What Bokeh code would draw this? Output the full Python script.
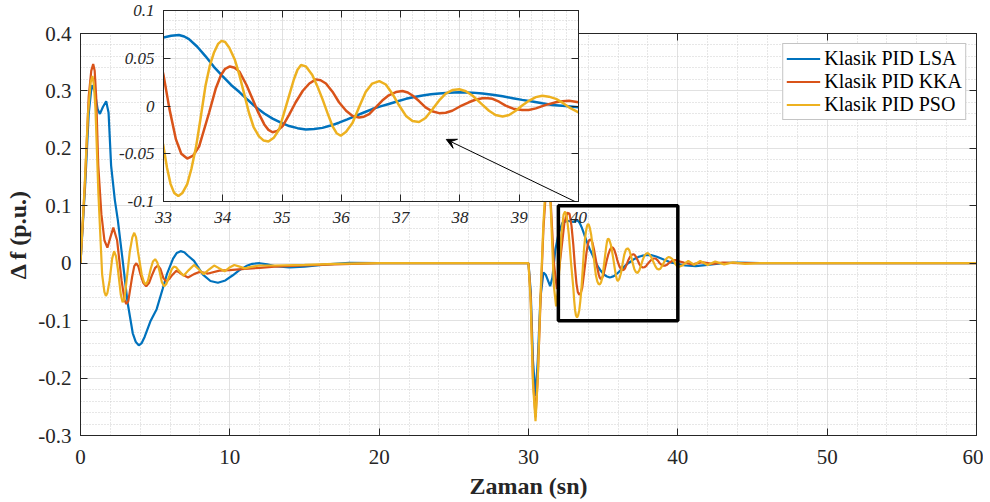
import numpy as np
from bokeh.plotting import figure
from bokeh.models import (Range1d, FixedTicker, LinearAxis, Legend, LegendItem,
                          Arrow, VeeHead, GridBox, Column)
from bokeh.embed import file_html
from bokeh.resources import INLINE

# ---------------- data ----------------
series_names = ["Klasik PID LSA", "Klasik PID KKA", "Klasik PID PSO"]
series_colors = ["#0072BD", "#D95319", "#EDB120"]

# (time [s], delta f [p.u.]) pairs, one list per controller
lsa_points = [
    (0, 0), (0.3, 0.13), (0.55, 0.26), (0.75, 0.31), (0.95, 0.30), (1.15, 0.268), (1.3, 0.26),
    (1.5, 0.272), (1.72, 0.282), (1.88, 0.262), (2.05, 0.17), (2.3, 0.11), (2.5, 0.075),
    (2.8, 0.01), (3.15, -0.068), (3.5, -0.122), (3.7, -0.137), (3.9, -0.143), (4.1, -0.139),
    (4.3, -0.128), (4.7, -0.1), (5.1, -0.08), (5.5, -0.045), (5.8, -0.018), (6.2, 0.008),
    (6.45, 0.018), (6.7, 0.021), (6.95, 0.019), (7.2, 0.013), (7.6, 0.004), (8.2, -0.02),
    (8.7, -0.031), (9.2, -0.034), (9.7, -0.03), (10.2, -0.021), (10.6, -0.013), (11.1, -0.005),
    (11.5, -0.001), (12.0, 0.0), (12.5, -0.002), (13.0, -0.005), (14.0, -0.0075), (15.0, -0.006),
    (16.5, -0.002), (18.0, 0.0005), (20, 0), (30, 0),
    (30.15, -0.05), (30.3, -0.17), (30.47, -0.231), (30.62, -0.17), (30.8, -0.06), (31.0, -0.016),
    (31.15, -0.02), (31.3, -0.03), (31.45, -0.04), (31.6, -0.025), (31.8, 0.024), (32.0, 0.05),
    (32.26, 0.07), (32.6, 0.074),
    (33.0, 0.0718), (33.13, 0.0735), (33.26, 0.0743), (33.35, 0.0728), (33.43, 0.070),
    (33.57, 0.062), (33.71, 0.052), (33.85, 0.041), (34.0, 0.031), (34.14, 0.022), (34.28, 0.0146),
    (34.42, 0.0065), (34.56, -0.0014), (34.7, -0.0078), (34.84, -0.0132), (34.98, -0.0175),
    (35.12, -0.021), (35.26, -0.0232), (35.4, -0.0246), (35.54, -0.0241), (35.68, -0.0229),
    (35.82, -0.0205), (35.96, -0.0175), (36.1, -0.014), (36.24, -0.0104), (36.38, -0.0068),
    (36.52, -0.0032), (36.66, -0.0004), (36.8, 0.0021), (36.95, 0.005), (37.09, 0.0075),
    (37.23, 0.0094), (37.37, 0.011), (37.51, 0.0122), (37.65, 0.0132), (37.82, 0.0139),
    (37.99, 0.0143), (38.1, 0.0142), (38.21, 0.014), (38.38, 0.013), (38.55, 0.0118),
    (38.72, 0.0101), (38.89, 0.0082), (39.05, 0.0064), (39.22, 0.0046), (39.39, 0.0028),
    (39.56, 0.0011), (39.78, 0.0), (40.0, -0.0014),
    (40.5, -0.004), (41.2, -0.005), (42.0, -0.003), (43.0, 0.0), (44.0, 0.001), (45.5, 0.0), (60, 0),
]

kka_points = [
    (0, 0), (0.3, 0.14), (0.55, 0.29), (0.72, 0.335), (0.85, 0.347), (0.95, 0.335), (1.05, 0.29),
    (1.19, 0.17), (1.4, 0.085), (1.6, 0.04), (1.8, 0.027), (2.0, 0.045), (2.2, 0.062),
    (2.45, 0.04), (2.75, -0.03), (2.95, -0.064), (3.07, -0.071), (3.2, -0.066), (3.45, -0.025),
    (3.6, -0.005), (3.74, 0.0), (3.88, -0.006), (4.0, -0.018), (4.2, -0.034), (4.4, -0.040),
    (4.6, -0.034), (4.8, -0.02), (5.0, -0.008), (5.18, -0.004), (5.35, -0.01), (5.55, -0.026),
    (5.75, -0.032), (5.95, -0.027), (6.1, -0.022), (6.42, -0.013), (6.85, -0.02), (7.2, -0.025),
    (7.6, -0.019), (8.0, -0.015), (8.55, -0.018), (9.3, -0.013), (10, -0.012), (11, -0.01),
    (12, -0.008), (13, -0.006), (15, -0.004), (17, -0.002), (20, 0), (30, 0),
    (30.15, -0.06), (30.3, -0.2), (30.47, -0.268), (30.62, -0.2), (30.8, -0.07), (31.0, 0.06),
    (31.2, 0.14), (31.35, 0.155), (31.5, 0.1), (31.7, 0.0), (31.9, -0.045), (32.1, 0.0),
    (32.4, 0.07), (32.6, 0.088), (32.75, 0.086), (32.88, 0.065),
    (33.0, 0.0325), (33.1, -0.003), (33.21, -0.035), (33.3, -0.050), (33.4, -0.055),
    (33.5, -0.052), (33.6, -0.0425), (33.77, -0.0068), (33.88, 0.018), (33.97, 0.0325),
    (34.04, 0.039), (34.12, 0.0414), (34.2, 0.040), (34.28, 0.036), (34.4, 0.022), (34.5, 0.0075),
    (34.6, -0.007), (34.7, -0.0193), (34.77, -0.025), (34.84, -0.0275), (34.92, -0.026),
    (35.01, -0.021), (35.12, -0.009), (35.23, 0.0039), (35.35, 0.016), (35.46, 0.0236),
    (35.57, 0.0279), (35.65, 0.027), (35.74, 0.0236), (35.85, 0.015), (35.96, 0.0039),
    (36.08, -0.005), (36.19, -0.0104), (36.3, -0.0121), (36.38, -0.0112), (36.47, -0.0086),
    (36.58, -0.0015), (36.69, 0.0057), (36.8, 0.0112), (36.92, 0.0146), (37.03, 0.0157),
    (37.12, 0.0142), (37.2, 0.011), (37.31, 0.0052), (37.42, -0.0014), (37.53, -0.0055),
    (37.65, -0.0075), (37.76, -0.007), (37.87, -0.005), (38.0, -0.0005), (38.15, 0.0039),
    (38.27, 0.0068), (38.38, 0.0082), (38.47, 0.0082), (38.55, 0.0075), (38.66, 0.0045),
    (38.77, 0.0004), (38.9, -0.0028), (39.05, -0.0043), (39.16, -0.0041), (39.28, -0.0025),
    (39.45, 0.0012), (39.62, 0.0039), (39.73, 0.0051), (39.84, 0.0054), (40.0, 0.0039),
    (40.4, 0.001), (41.0, -0.002), (41.6, 0.002), (42.3, -0.001), (43, 0.001), (44, 0), (60, 0),
]

pso_points = [
    (0, 0), (0.25, 0.12), (0.5, 0.26), (0.68, 0.315), (0.8, 0.326), (0.9, 0.31), (1.0, 0.27),
    (1.2, 0.12), (1.45, -0.02), (1.6, -0.05), (1.7, -0.057), (1.8, -0.052), (1.95, -0.03),
    (2.12, 0.008), (2.25, 0.021), (2.38, 0.012), (2.5, -0.01), (2.7, -0.055), (2.82, -0.068),
    (2.92, -0.064), (3.0, -0.05), (3.3, 0.02), (3.47, 0.045), (3.6, 0.053), (3.72, 0.045),
    (3.85, 0.02), (4.1, -0.02), (4.25, -0.033), (4.38, -0.037), (4.52, -0.03), (4.7, -0.01),
    (4.85, 0.003), (5.0, 0.007), (5.15, 0.001), (5.3, -0.015), (5.45, -0.033), (5.6, -0.04),
    (5.75, -0.036), (5.95, -0.022), (6.1, -0.011), (6.25, -0.006), (6.4, -0.007), (6.55, -0.012),
    (6.9, -0.022), (7.25, -0.012), (7.6, -0.003), (7.9, -0.01), (8.25, -0.019), (8.6, -0.011),
    (8.95, -0.004), (9.3, -0.009), (9.65, -0.014), (9.95, -0.008), (10.3, -0.003),
    (10.65, -0.006), (11.0, -0.009), (11.5, -0.006), (12.0, -0.004), (13, -0.004), (15, -0.003),
    (17, -0.001), (20, 0), (30, 0),
    (30.15, -0.07), (30.3, -0.21), (30.47, -0.275), (30.62, -0.2), (30.8, -0.06), (31.0, 0.07),
    (31.2, 0.16), (31.35, 0.17), (31.5, 0.09), (31.7, -0.04), (31.85, -0.075), (32.0, -0.04),
    (32.2, 0.05), (32.35, 0.085), (32.45, 0.09), (32.57, 0.08), (32.7, 0.05), (32.85, 0.0),
    (33.0, -0.0425), (33.06, -0.065), (33.12, -0.0818), (33.18, -0.091), (33.25, -0.0943),
    (33.32, -0.091), (33.4, -0.0818), (33.47, -0.066), (33.55, -0.0425), (33.63, -0.011),
    (33.71, 0.0218), (33.78, 0.042), (33.85, 0.0557), (33.92, 0.065), (33.98, 0.0682),
    (34.04, 0.067), (34.11, 0.0611), (34.2, 0.049), (34.28, 0.0325), (34.36, 0.013),
    (34.44, -0.0068), (34.52, -0.022), (34.61, -0.0318), (34.69, -0.0362), (34.77, -0.0371),
    (34.86, -0.0333), (34.95, -0.0246), (35.03, -0.008), (35.12, 0.0111), (35.2, 0.028),
    (35.26, 0.038), (35.32, 0.0429), (35.4, 0.0415), (35.51, 0.0325), (35.6, 0.020),
    (35.68, 0.0075), (35.77, -0.008), (35.85, -0.021), (35.92, -0.0285), (35.99, -0.0311),
    (36.08, -0.027), (36.19, -0.0175), (36.3, -0.001), (36.41, 0.0146), (36.52, 0.0235),
    (36.64, 0.0261), (36.75, 0.0225), (36.86, 0.0129), (36.97, 0.001), (37.09, -0.0104),
    (37.2, -0.0158), (37.31, -0.0168), (37.42, -0.0125), (37.54, -0.0032), (37.65, 0.0058),
    (37.76, 0.0129), (37.88, 0.0168), (37.99, 0.0175), (38.1, 0.0155), (38.21, 0.011),
    (38.35, 0.003), (38.49, -0.005), (38.6, -0.0095), (38.72, -0.011), (38.83, -0.0095),
    (38.94, -0.005), (39.05, 0.0005), (39.17, 0.0057), (39.28, 0.0093), (39.39, 0.0107),
    (39.5, 0.0098), (39.62, 0.0075), (39.73, 0.0035), (39.84, -0.0014), (40.0, -0.0068),
    (40.3, -0.004), (40.7, 0.004), (41.1, -0.003), (41.5, 0.004), (42.0, -0.003), (42.5, 0.003),
    (43.1, -0.002), (43.7, 0.0015), (44.5, -0.001), (45.5, 0), (60, 0),
]

x_ticks = [0, 10, 20, 30, 40, 50, 60]
x_tick_labels = ["0", "10", "20", "30", "40", "50", "60"]
y_ticks = [-0.3, -0.2, -0.1, 0, 0.1, 0.2, 0.3, 0.4]
y_tick_labels = ["-0.3", "-0.2", "-0.1", "0", "0.1", "0.2", "0.3", "0.4"]
inset_x_ticks = [33, 34, 35, 36, 37, 38, 39, 40]
inset_x_tick_labels = ["33", "34", "35", "36", "37", "38", "39", "40"]
inset_y_ticks = [-0.1, -0.05, 0, 0.05, 0.1]
inset_y_tick_labels = ["-0.1", "-0.05", "0", "0.05", "0.1"]

x_title = "Zaman (sn)"
y_title = "\u0394 f (p.u.)"

zoom_box = dict(left=32, right=40, bottom=-0.1, top=0.1)
inset_x_range = (33, 40)
inset_y_range = (-0.1, 0.1)
arrow_tail = (40.44, -0.115)   # inset data coordinates
arrow_head = (37.77, -0.035)

# ---------------- styling ----------------
FONT = "Liberation Serif"
AX = "#262626"
GRID = "#e1e1e1"
MINOR = "#cfcfcf"

series = []
for pts in (lsa_points, kka_points, pso_points):
    t, f = zip(*pts)
    series.append((list(t), list(f)))


def style_axis(ax, ticks, labels, size, italic, standoff, show):
    ax.ticker = FixedTicker(ticks=list(ticks))
    ax.axis_line_color = AX
    ax.axis_line_width = 1
    ax.major_tick_line_color = AX
    ax.major_tick_in = 7
    ax.major_tick_out = 0
    ax.minor_tick_line_color = None
    ax.major_label_text_font = FONT
    ax.major_label_text_color = AX
    ax.major_label_text_font_style = "italic" if italic else "normal"
    ax.major_label_text_font_size = f"{size}px"
    if show:
        ax.major_label_standoff = standoff
        ax.major_label_overrides = {t: l for t, l in zip(ticks, labels)}
    else:
        ax.major_label_standoff = 0
        ax.major_label_overrides = {t: "" for t in ticks}


def style_grid(g, ticks, minor):
    g.ticker = FixedTicker(ticks=list(ticks), minor_ticks=[float(v) for v in minor])
    g.grid_line_color = GRID
    g.grid_line_width = 1
    g.minor_grid_line_color = MINOR
    g.minor_grid_line_dash = "1 2"
    g.minor_grid_line_width = 1


def no_align(fig):
    if "frame_align" in fig.properties():
        fig.frame_align = False


# ---------------- main figure ----------------
p = figure(width=983, height=495,
           x_range=Range1d(0, 60), y_range=Range1d(-0.3, 0.4),
           output_backend="svg", toolbar_location=None,
           min_border_left=80, min_border_right=7, min_border_top=26, min_border_bottom=67,
           background_fill_color="white", border_fill_color="white",
           outline_line_color=AX)
no_align(p)

p.add_layout(LinearAxis(), "above")
p.add_layout(LinearAxis(), "right")
style_axis(p.below[0], x_ticks, x_tick_labels, 21, False, 14, True)
style_axis(p.left[0], y_ticks, y_tick_labels, 21, False, 9, True)
style_axis(p.above[0], x_ticks, x_tick_labels, 1, False, 0, False)
style_axis(p.right[0], y_ticks, y_tick_labels, 1, False, 0, False)

p.below[0].axis_label = x_title
p.left[0].axis_label = y_title
for ax in (p.below[0], p.left[0]):
    ax.axis_label_text_font = FONT
    ax.axis_label_text_font_style = "bold"
    ax.axis_label_text_font_size = "24px"
    ax.axis_label_text_color = AX
p.below[0].axis_label_standoff = 6
p.left[0].axis_label_standoff = 4

style_grid(p.xgrid[0], x_ticks, np.arange(0, 61, 2))
style_grid(p.ygrid[0], y_ticks, np.round(np.arange(-0.3, 0.4001, 0.02), 3))

renderers = []
for (t, f), c in zip(series, series_colors):
    renderers.append(p.line(t, f, line_color=c, line_width=2.2))

p.quad(left=[zoom_box["left"]], right=[zoom_box["right"]],
       bottom=[zoom_box["bottom"]], top=[zoom_box["top"]],
       fill_color=None, line_color="black", line_width=3.5)

legend = Legend(items=[LegendItem(label=n, renderers=[r]) for n, r in zip(series_names, renderers)],
                location="top_right", margin=10, padding=3, spacing=0,
                glyph_width=34, glyph_height=23, label_standoff=4,
                label_text_font=FONT, label_text_font_size="20px", label_text_color="black",
                border_line_color="#8a8a8a", border_line_width=1.5,
                background_fill_color="white", background_fill_alpha=1)
p.add_layout(legend)

# ---------------- inset figure ----------------
ins = figure(width=611, height=240,
             x_range=Range1d(*inset_x_range), y_range=Range1d(*inset_y_range),
             output_backend="svg", toolbar_location=None,
             min_border_left=156, min_border_right=40, min_border_top=13, min_border_bottom=36,
             background_fill_color="white", border_fill_color=None,
             outline_line_color=AX)
no_align(ins)
ins.add_layout(LinearAxis(), "above")
ins.add_layout(LinearAxis(), "right")
style_axis(ins.below[0], inset_x_ticks, inset_x_tick_labels, 17, True, 10, True)
style_axis(ins.left[0], inset_y_ticks, inset_y_tick_labels, 17, True, 9, True)
style_axis(ins.above[0], inset_x_ticks, inset_x_tick_labels, 1, True, 0, False)
style_axis(ins.right[0], inset_y_ticks, inset_y_tick_labels, 1, True, 0, False)
style_grid(ins.xgrid[0], inset_x_ticks, np.round(np.arange(33, 40.001, 0.2), 2))
style_grid(ins.ygrid[0], inset_y_ticks, np.round(np.arange(-0.1, 0.1001, 0.01), 3))

for (t, f), c in zip(series, series_colors):
    ins.line(t, f, line_color=c, line_width=2.5)

ins.add_layout(Arrow(end=VeeHead(size=10, line_color="black", fill_color="black", line_width=1),
                     x_start=arrow_tail[0], y_start=arrow_tail[1],
                     x_end=arrow_head[0], y_end=arrow_head[1],
                     line_color="black", line_width=1))

main_box = Column(children=[p], margin=(7, 0, -16, 0))
inset_box = Column(children=[ins], margin=(-3, 0, 0, 7))
layout = GridBox(children=[(main_box, 0, 0), (inset_box, 0, 0)])

open("out.html", "w").write(file_html(layout, INLINE))
